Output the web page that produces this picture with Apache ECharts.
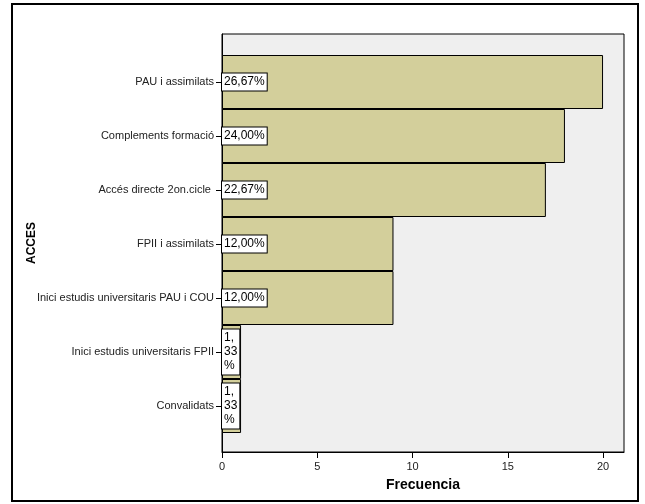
<!DOCTYPE html>
<html>
<head>
<meta charset="utf-8">
<script src="https://cdn.jsdelivr.net/npm/echarts@6/dist/echarts.min.js"></script>
<style>html,body{margin:0;padding:0;background:#fff;}#c{width:645px;height:504px;}</style>
</head>
<body>
<div id="c"></div>
<script>
var categories = ['PAU i assimilats', 'Complements formació', 'Accés directe 2on.cicle ', 'FPII i assimilats', 'Inici estudis universitaris PAU i COU', 'Inici estudis universitaris FPII', 'Convalidats'];
var counts = [20, 18, 17, 9, 9, 1, 1];
var percents = ['26,67%', '24,00%', '22,67%', '12,00%', '12,00%', '1,33%', '1,33%'];
var xTicks = [0, 5, 10, 15, 20];

var chart = echarts.init(document.getElementById('c'), null, {renderer: 'canvas'});
var font = 'Arial, "Liberation Sans", sans-serif';
var option = {
  animation: false,
  backgroundColor: '#fff',
  graphic: [{
    type: 'rect', shape: {x: 12, y: 4, width: 626, height: 497},
    style: {fill: 'none', stroke: '#000', lineWidth: 2}, z: 100
  }],
  grid: [
    {left: 222, right: 21, top: 34, bottom: 52, show: true, backgroundColor: '#efefef', borderColor: '#000', borderWidth: 1},
    {left: 222, right: 21, top: 55, bottom: 71}
  ],
  xAxis: [
    {gridIndex: 0, type: 'value', min: 0, max: 21.1, interval: 5,
     axisLine: {show: true, lineStyle: {color: '#000', width: 1}},
     axisTick: {show: true, length: 6, lineStyle: {color: '#000'}, customValues: xTicks},
     splitLine: {show: false},
     axisLabel: {color: '#222', fontSize: 11, fontFamily: font, margin: 9, customValues: xTicks},
     name: 'Frecuencia', nameLocation: 'middle', nameGap: 26,
     nameTextStyle: {fontSize: 14, fontWeight: 'bold', fontFamily: font, color: '#000'}},
    {gridIndex: 1, type: 'value', min: 0, max: 21.1, show: false}
  ],
  yAxis: [
    {gridIndex: 0, type: 'value', min: 0, max: 1, axisLine: {show: true, lineStyle: {color: '#000'}},
     axisTick: {show: false}, axisLabel: {show: false}, splitLine: {show: false},
     name: 'ACCES', nameLocation: 'middle', nameGap: 184, nameRotate: 90,
     nameTextStyle: {fontSize: 12, fontWeight: 'bold', fontFamily: font, color: '#000'}},
    {gridIndex: 1, type: 'category', inverse: true, data: categories,
     axisLine: {show: false},
     axisTick: {show: true, alignWithLabel: true, length: 6, lineStyle: {color: '#000'}},
     axisLabel: {color: '#222', fontSize: 11, fontFamily: font, margin: 8}}
  ],
  series: [{
    type: 'bar', xAxisIndex: 1, yAxisIndex: 1, data: counts,
    barCategoryGap: 0,
    itemStyle: {color: '#d3cf9b', borderColor: '#000', borderWidth: 1},
    label: {
      show: true, position: 'insideLeft', distance: 0,
      backgroundColor: '#fff', borderColor: '#000', borderWidth: 1,
      padding: [2, 2, 1, 2], fontSize: 12, lineHeight: 14, color: '#000', fontFamily: font,
      formatter: function (p) {
        var s = percents[p.dataIndex];
        if (p.value < 3) {
          var i = s.indexOf(',');
          return s.slice(0, i + 1) + '\n' + s.slice(i + 1, s.length - 1) + '\n%';
        }
        return s;
      }
    }
  }]
};
chart.setOption(option);
</script>
</body>
</html>
